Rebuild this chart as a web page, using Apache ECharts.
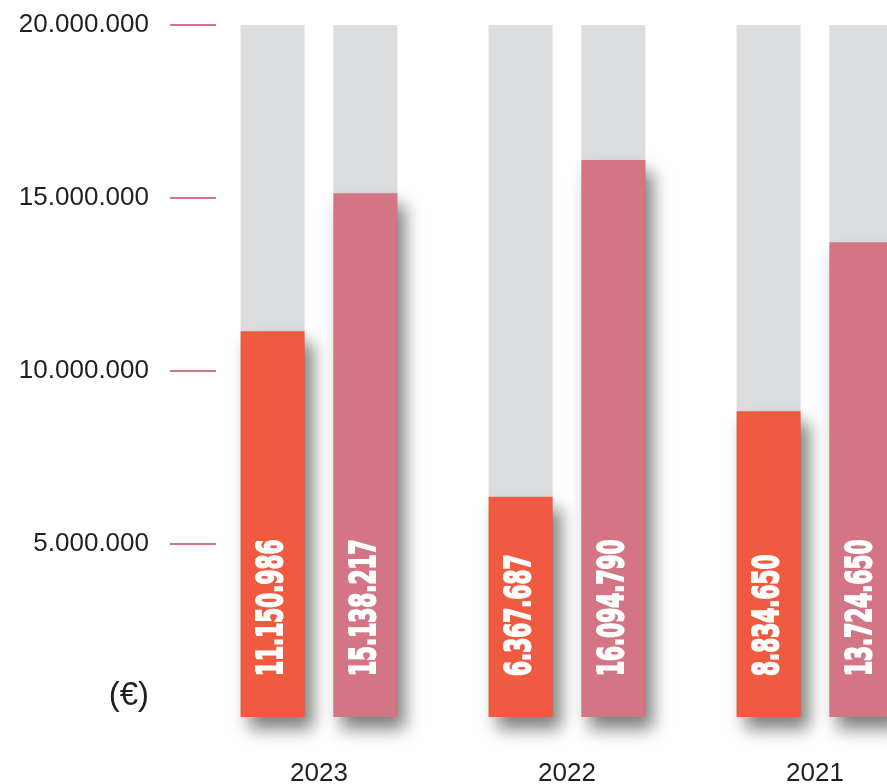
<!DOCTYPE html>
<html>
<head>
<meta charset="utf-8">
<script src="https://cdn.jsdelivr.net/npm/echarts@6/dist/echarts.min.js"></script>
<style>
  html, body { margin: 0; padding: 0; background: #fff; }
  #chart { width: 887px; height: 784px; }
</style>
</head>
<body>
<div id="chart"></div>
<script>
var years = ['2023', '2022', '2021'];
var valuesA = [11150986, 6367687, 8834650];
var valuesB = [15138217, 16094790, 13724650];
var tickValues = [5000000, 10000000, 15000000, 20000000];

var orange = '#ef5a40';
var pink = '#d37585';
var grey = '#dcdddf';
var ink = '#231f20';
var textFont = 'Liberation Sans, Arial, sans-serif';

function dots(v) {
  return String(Math.round(v)).replace(/\B(?=(\d{3})+(?!\d))/g, '.');
}

// label rows: [category index, value, side (-1 left bar, 1 right bar)]
var labelRows = [];
years.forEach(function(y, i) {
  labelRows.push([i, valuesA[i], -1]);
  labelRows.push([i, valuesB[i], 1]);
});

var chart = echarts.init(document.getElementById('chart'), null, { renderer: 'canvas' });

var shadow = {
  shadowBlur: 16,
  shadowOffsetX: 8,
  shadowOffsetY: 12,
  shadowColor: 'rgba(0,0,0,0.5)'
};

chart.setOption({
  animation: false,
  grid: { left: 195, top: 25, width: 744, height: 692, outerBoundsMode: 'none' },
  xAxis: {
    type: 'category',
    data: years,
    axisLine: { show: false },
    axisTick: { show: false },
    axisLabel: { color: ink, fontSize: 26, fontFamily: textFont, margin: 44 }
  },
  yAxis: {
    type: 'value',
    min: 0,
    max: 20000000,
    interval: 5000000,
    offset: -21,
    axisLine: { show: false },
    splitLine: { show: false },
    axisTick: {
      show: true,
      length: 46,
      customValues: tickValues,
      lineStyle: { color: pink, width: 2 }
    },
    axisLabel: {
      customValues: tickValues,
      margin: 67,
      color: ink,
      fontSize: 26,
      fontFamily: textFont,
      formatter: function(v) { return dots(v); }
    }
  },
  graphic: [{
    type: 'text',
    right: 887 - 149,
    top: 679,
    style: { text: '(€)', fill: ink, fontSize: 33, fontFamily: textFont }
  }],
  series: [
    {
      type: 'bar',
      data: valuesA,
      barWidth: 64,
      barGap: '45%',
      showBackground: true,
      backgroundStyle: { color: grey },
      itemStyle: Object.assign({ color: orange }, shadow)
    },
    {
      type: 'bar',
      data: valuesB,
      barWidth: 64,
      showBackground: true,
      backgroundStyle: { color: grey },
      itemStyle: Object.assign({ color: pink }, shadow)
    },
    {
      // vertical value labels in a condensed look (scaled along the reading direction)
      type: 'custom',
      data: labelRows,
      z: 10,
      renderItem: function(params, api) {
        var base = api.coord([api.value(0), 0]);
        return {
          type: 'text',
          x: base[0] + api.value(2) * 46.5,
          y: base[1] - 41,
          rotation: Math.PI / 2,
          scaleX: 0.6,
          style: {
            text: dots(api.value(1)),
            fill: '#fff',
            stroke: '#fff',
            lineWidth: 2,
            font: 'bold 36px "DejaVu Sans", sans-serif',
            align: 'left',
            verticalAlign: 'middle'
          }
        };
      }
    }
  ]
});
</script>
</body>
</html>
